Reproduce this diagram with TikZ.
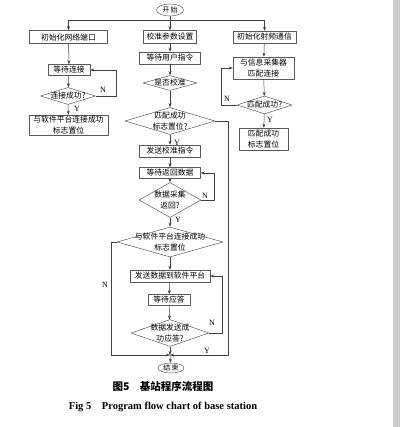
\documentclass[tikz,border=0pt]{standalone}
\usepackage{fontspec}
\setmainfont{Liberation Serif}
\newfontfamily\cjk{Noto Sans CJK SC}
\usetikzlibrary{shapes.geometric,arrows.meta}
\tikzset{
  box/.style 2 args={draw=black!65, line width=.5pt, fill=white, inner sep=0pt, align=center, minimum width=#1, minimum height=#2},
  dia/.style 2 args={diamond, draw=black!65, line width=.5pt, inner sep=0pt, minimum width=#1, minimum height=#2},
  term/.style={ellipse, draw=black!65, line width=.5pt, inner sep=0pt, minimum width=27, minimum height=12, font=\cjk\fontsize{7}{8}\selectfont},
  yn/.style={font=\fontsize{8}{9}\selectfont, inner sep=0pt},
  flow/.style={->, draw=black!75, line width=.5pt}
}

\begin{document}
\begin{tikzpicture}[x=1pt, y=-1pt, >={Stealth[length=4pt,width=3pt]}, font=\cjk\fontsize{7.8}{11}\selectfont, line join=round]
\useasboundingbox (0,0) rectangle (400,427);
\fill[black!20] (393,0) rectangle (400,427);
% start
\node[term] (start) at (170,10) {开\,始};
\coordinate (top) at (170,20);
% left column
\node[box={78}{13}] (l1) at (68.5,37) {初始化网络端口};
\node[box={42}{11}] (l2) at (69,70) {等待连接};
\node[dia={55}{17}] (l3) at (68,96) {};
\node (l3t) at (l3) {连接成功?};
\node[box={79}{20}] (l4) at (68.5,125) {与软件平台连接成功\\标志置位};
% middle column
\node[box={53}{13}] (m1) at (170,37) {校准参数设置};
\node[box={61}{12}] (m2) at (170,58) {等待用户指令};
\node[dia={54}{15}] (m3) at (170,83) {};
\node (m3t) at (m3) {是否校准};
\node[dia={90}{27}] (m4) at (170,121) {};
\node (m4t) at (m4) [align=center] {匹配成功\\标志置位?};
\node[box={61}{12}] (m5) at (170,151) {发送校准指令};
\node[box={61}{11}] (m6) at (170,173) {等待返回数据};
\node[dia={62}{35}] (m7) at (170,200) {};
\node (m7t) at (m7) [align=center] {数据采集\\返回?};
\node[dia={106}{30}] (m8) at (170,242) {};
\node (m8t) at (m8) [align=center] {与软件平台连接成功\\标志置位};
\node[box={80}{12}] (m9) at (170,276) {发送数据到软件平台};
\node[box={42}{11}] (m10) at (169,300) {等待应答};
\node[dia={78}{27}] (m11) at (170,333) {};
\node (m11t) at (m11) [align=center] {数据发送成\\功应答?};
\coordinate (join) at (170,355);
\node[term, minimum width=26, minimum height=10] (stop) at (171,368) {结\,束};
% right column
\node[box={63}{12}] (r1) at (264.5,37) {初始化射频通信};
\node[box={61}{22}] (r2) at (263.5,68) {与信息采集器\\匹配连接};
\node[dia={55}{18}] (r3) at (264.5,105) {};
\node (r3t) at (r3) {匹配成功?};
\node[box={49}{22}] (r4) at (263.5,139) {匹配成功\\标志置位};
% connectors
\draw[flow] (start) -- (m1);
\draw[flow] (top) -| (l1);
\draw[flow] (top) -| (r1);
\draw[flow] (l1) -- (l2);
\draw[flow] (l2) -- (l3);
\draw[flow] (l3) -- (l4);
\draw[flow] (l3.east) -- ++(20,0) |- (l2.east);
\draw[flow] (m1) -- (m2);
\draw[flow] (m2) -- (m3);
\draw[flow] (m3) -- (m4);
\draw[flow] (m4) -- (m5);
\draw[flow] (m5) -- (m6);
\draw[flow] (m6) -- (m7);
\draw[flow] (m7.east) -- ++(13,0) |- (m6.east);
\draw[flow] (m7) -- (m8);
\draw[flow] (m8) -- (m9);
\draw[flow] (m9) -- (m10);
\draw[flow] (m10) -- (m11);
\draw[flow] (m11.east) -- ++(13,0) |- (m9.east);
\draw[flow] (m11) -- (join);
\draw[flow] (m8.west) -- ++(-6,0) |- (join);
\draw[flow] (m4.east) -- ++(13,0) |- (join);
\draw[flow] (join) -- (stop);
\draw[flow] (r1) -- (r2);
\draw[flow] (r2) -- (r3);
\draw[flow] (r3) -- (r4);
\draw[flow] (r3.west) -- ++(-16,0) |- (r2.west);
% Y / N
\node[yn] (ln) at (103,90) {N};
\node[yn] (ly) at (77,109) {Y};
\node[yn] (my1) at (177,143) {Y};
\node[yn] (mn1) at (205,196) {N};
\node[yn] (my2) at (178,220) {Y};
\node[yn] (mn2) at (105,285) {N};
\node[yn] (mn3) at (212,323) {N};
\node[yn] (my3) at (207,351) {Y};
\node[yn] (rn) at (227,99) {N};
\node[yn] (ry) at (270,120) {Y};
% caption
\node[font=\cjk\bfseries\fontsize{10.5}{12}\selectfont] (cap) at (163,386) {图5\quad 基站程序流程图};
\node[font=\bfseries\fontsize{10.5}{12}\selectfont] (capen) at (163,407) {Fig 5\quad Program flow chart of base station};
\end{tikzpicture}
\end{document}
